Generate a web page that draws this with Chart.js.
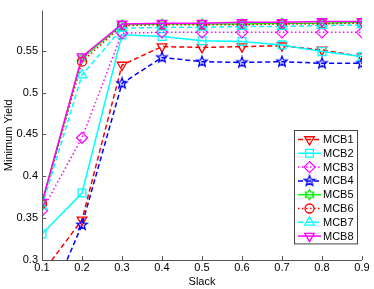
<!DOCTYPE html>
<html>
<head>
<meta charset="utf-8">
<script src="https://cdn.jsdelivr.net/npm/chart.js@4.4.1/dist/chart.umd.min.js"></script>
<style>
  html, body { margin: 0; padding: 0; background: #fff; }
  #wrap { width: 374px; height: 289px; }
</style>
</head>
<body>
<div id="wrap"><canvas id="yieldChart" width="374" height="289"></canvas></div>
<script>
// slack values on the x axis
const slack = [0.1, 0.2, 0.3, 0.4, 0.5, 0.6, 0.7, 0.8, 0.9];
const seriesNames = ['MCB1', 'MCB2', 'MCB3', 'MCB4', 'MCB5', 'MCB6', 'MCB7', 'MCB8'];

const mcb1 = [0.284, 0.348, 0.533, 0.555, 0.554, 0.555, 0.556, 0.551, 0.543];
const mcb2 = [0.331, 0.380, 0.569, 0.567, 0.562, 0.561, 0.557, 0.549, 0.543];
const mcb3 = [0.359, 0.446, 0.571, 0.572, 0.572, 0.572, 0.572, 0.572, 0.572];
const mcb4 = [0.230, 0.342, 0.511, 0.542, 0.537, 0.536, 0.537, 0.535, 0.535];
const mcb5 = [0.368, 0.541, 0.581, 0.582, 0.582, 0.582, 0.583, 0.583, 0.584];
const mcb6 = [0.367, 0.537, 0.580, 0.581, 0.581, 0.581, 0.582, 0.582, 0.583];
const mcb7 = [0.364, 0.521, 0.577, 0.578, 0.578, 0.579, 0.579, 0.580, 0.581];
const mcb8 = [0.369, 0.543, 0.582, 0.583, 0.583, 0.584, 0.584, 0.585, 0.585];

const xTicks = [0.1, 0.2, 0.3, 0.4, 0.5, 0.6, 0.7, 0.8, 0.9];
const yTicks = [0.3, 0.35, 0.4, 0.45, 0.5, 0.55];

const FONT = '"Liberation Sans", Arial, sans-serif';

// star shaped markers drawn once on small canvases
function starCanvas(color, points, outer, inner) {
    const c = document.createElement('canvas');
    const s = Math.ceil(outer * 2 + 3);
    c.width = s; c.height = s;
    const g = c.getContext('2d');
    g.strokeStyle = color;
    g.lineWidth = 1.3;
    g.beginPath();
    for (let i = 0; i < points * 2; i++) {
        const r = i % 2 === 0 ? outer : inner;
        const a = -Math.PI / 2 + i * Math.PI / points;
        const px = s / 2 + r * Math.cos(a), py = s / 2 + r * Math.sin(a);
        if (i === 0) g.moveTo(px, py); else g.lineTo(px, py);
    }
    g.closePath();
    g.stroke();
    return c;
}
const pentagram = starCanvas('#0000ff', 5, 5.5, 2.3);
const hexagram = starCanvas('#00e000', 6, 4.8, 2.9);

const styles = [
    { color: '#ff0000', dash: [5, 3], point: 'triangle', rot: 180, r: 5.5 },
    { color: '#00ffff', dash: [], point: 'rect', rot: 0, r: 5.5 },
    { color: '#ff00ff', dash: [1.5, 2.5], point: 'rectRot', rot: 0, r: 5.5 },
    { color: '#0000ff', dash: [5, 3], point: pentagram, rot: 0, r: 6 },
    { color: '#00ff00', dash: [], point: hexagram, rot: 0, r: 5 },
    { color: '#ff0000', dash: [1.5, 2.5], point: 'circle', rot: 0, r: 4.5 },
    { color: '#00ffff', dash: [5, 3], point: 'triangle', rot: 0, r: 5.5 },
    { color: '#ff00ff', dash: [], point: 'triangle', rot: 180, r: 5.5 }
];
const allSeries = [mcb1, mcb2, mcb3, mcb4, mcb5, mcb6, mcb7, mcb8];

const datasets = allSeries.map((vals, i) => ({
    label: seriesNames[i],
    data: vals.map((v, j) => ({ x: slack[j], y: v })),
    borderColor: styles[i].color,
    backgroundColor: 'rgba(0,0,0,0)',
    borderWidth: 1.5,
    borderDash: styles[i].dash,
    pointStyle: styles[i].point,
    pointRotation: styles[i].rot,
    pointRadius: styles[i].r,
    pointBorderWidth: 1.3,
    pointBorderColor: styles[i].color,
    pointBackgroundColor: 'rgba(0,0,0,0)',
    tension: 0,
    order: 7 - i
}));

// inward tick marks like matlab
const innerTicks = {
    id: 'innerTicks',
    afterDraw(chart) {
        const ctx = chart.ctx, a = chart.chartArea;
        const xs = chart.scales.x, ys = chart.scales.y;
        ctx.save();
        ctx.strokeStyle = '#555';
        ctx.lineWidth = 1;
        ctx.beginPath();
        ctx.moveTo(a.left + 0.5, a.top);
        ctx.lineTo(a.left + 0.5, a.bottom + 0.5);
        ctx.lineTo(a.right, a.bottom + 0.5);
        xTicks.forEach(v => {
            const px = Math.round(xs.getPixelForValue(v)) + 0.5;
            ctx.moveTo(px, a.bottom);
            ctx.lineTo(px, a.bottom - 4);
        });
        yTicks.forEach(v => {
            const py = Math.round(ys.getPixelForValue(v)) + 0.5;
            ctx.moveTo(a.left, py);
            ctx.lineTo(a.left + 4, py);
        });
        ctx.stroke();
        ctx.restore();
    }
};

// legend box in the lower right, line sample with marker in the middle
const boxLegend = {
    id: 'boxLegend',
    afterDraw(chart) {
        const ctx = chart.ctx;
        const left = 294, top = 130, w = 63, rowH = 13.8;
        ctx.save();
        ctx.fillStyle = '#fff';
        ctx.fillRect(left, top, w, rowH * 8 + 3);
        ctx.strokeStyle = '#444';
        ctx.lineWidth = 1;
        ctx.strokeRect(left + 0.5, top + 0.5, w, rowH * 8 + 3);
        chart.data.datasets.forEach((ds, i) => {
            const y = top + 9.5 + i * rowH;
            ctx.strokeStyle = ds.borderColor;
            ctx.lineWidth = 1.5;
            ctx.setLineDash(ds.borderDash);
            ctx.beginPath();
            ctx.moveTo(left + 4, y);
            ctx.lineTo(left + 27, y);
            ctx.stroke();
            ctx.setLineDash([]);
            ctx.lineWidth = 1.3;
            ctx.fillStyle = 'rgba(0,0,0,0)';
            Chart.helpers.drawPoint(ctx, {
                pointStyle: ds.pointStyle,
                radius: ds.pointRadius,
                rotation: ds.pointRotation,
                borderWidth: 1.3
            }, left + 15.5, y);
            ctx.fillStyle = '#000';
            ctx.font = '11px ' + FONT;
            ctx.textBaseline = 'middle';
            ctx.fillText(ds.label, left + 29, y + 0.5);
        });
        ctx.restore();
    }
};

new Chart(document.getElementById('yieldChart').getContext('2d'), {
    type: 'line',
    data: { datasets: datasets },
    options: {
        responsive: false,
        animation: false,
        layout: { padding: { top: 10, right: 12, left: 0, bottom: 0 } },
        plugins: {
            legend: { display: false },
            tooltip: { enabled: false }
        },
        scales: {
            x: {
                type: 'linear',
                min: 0.1,
                max: 0.9,
                afterBuildTicks: s => { s.ticks = xTicks.map(v => ({ value: v })); },
                afterFit: s => { s.height = 29; },
                grid: { display: false, drawTicks: false },
                border: { display: false },
                ticks: {
                    color: '#000',
                    font: { family: FONT, size: 11 },
                    padding: 1,
                    maxRotation: 0,
                    callback: v => v.toFixed(1)
                },
                title: {
                    display: true,
                    text: 'Slack',
                    color: '#000',
                    font: { family: FONT, size: 11 },
                    padding: { top: 0, bottom: 0 }
                }
            },
            y: {
                min: 0.3,
                max: 0.598,
                afterBuildTicks: s => { s.ticks = yTicks.map(v => ({ value: v })); },
                afterFit: s => { s.width = 42; },
                grid: { display: false, drawTicks: false },
                border: { display: false },
                ticks: {
                    color: '#000',
                    font: { family: FONT, size: 11 },
                    padding: 4,
                    callback: v => String(+v.toFixed(2))
                },
                title: {
                    display: true,
                    text: 'Minimum Yield',
                    color: '#000',
                    font: { family: FONT, size: 11 },
                    padding: { top: 2, bottom: 0 }
                }
            }
        }
    },
    plugins: [innerTicks, boxLegend]
});
</script>
</body>
</html>
